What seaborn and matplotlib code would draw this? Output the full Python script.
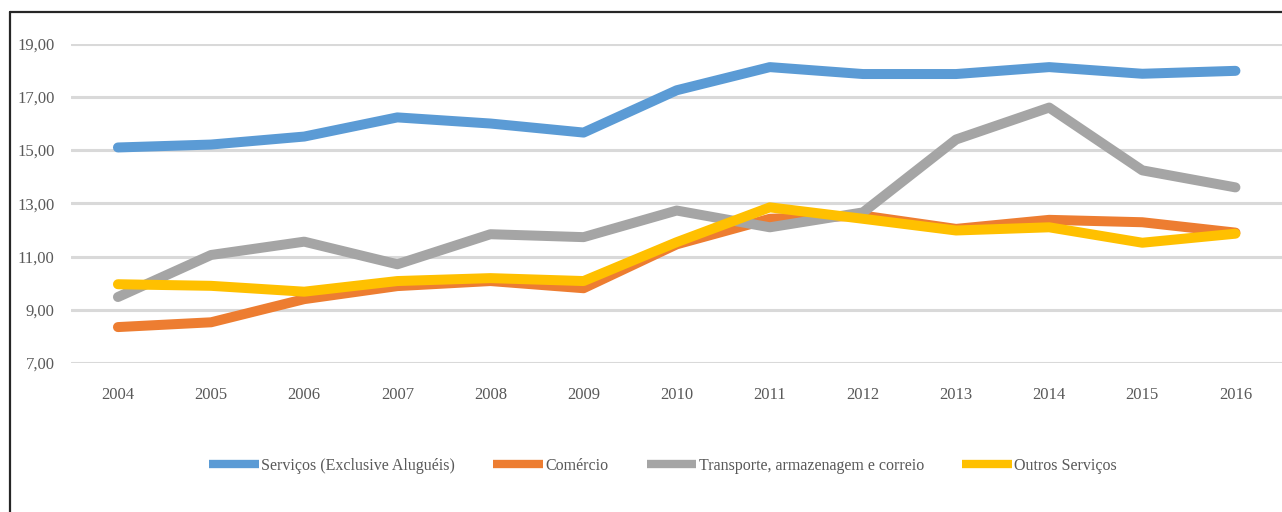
import numpy as np
import pandas as pd
import matplotlib
matplotlib.use("Agg")
import matplotlib.pyplot as plt
import seaborn as sns
from matplotlib.lines import Line2D

# dados
anos = list(range(2004, 2017))
servicos = [15.10, 15.21, 15.51, 16.23, 16.00, 15.66, 17.25, 18.12, 17.86, 17.86, 18.12, 17.87, 17.98]
comercio = [8.35, 8.53, 9.40, 9.89, 10.08, 9.81, 11.46, 12.42, 12.54, 12.04, 12.38, 12.29, 11.90]
transporte = [9.48, 11.06, 11.56, 10.71, 11.84, 11.73, 12.73, 12.10, 12.66, 15.40, 16.60, 14.24, 13.60]
outros = [9.96, 9.90, 9.68, 10.08, 10.19, 10.08, 11.54, 12.85, 12.42, 11.98, 12.10, 11.52, 11.86]

series = ["Serviços (Exclusive Aluguéis)", "Comércio",
          "Transporte, armazenagem e correio", "Outros Serviços"]
cores = ["#5B9BD5", "#ED7D31", "#A5A5A5", "#FFC000"]
yticks = [7, 9, 11, 13, 15, 17, 19]

df = pd.DataFrame({
    "ano": anos * 4,
    "valor": servicos + comercio + transporte + outros,
    "serie": [s for s in series for _ in anos],
})

sns.set_style("white")
plt.rcParams["font.family"] = ["Liberation Serif", "DejaVu Serif"]

fig = plt.figure(figsize=(12.82, 5.12), dpi=100)
ax = fig.add_axes([71.4 / 1282, 1 - 363 / 512, 1 - 71.4 / 1282, (363 - 43.7) / 512])

sns.lineplot(data=df, x="ano", y="valor", hue="serie", hue_order=series,
             palette=cores, linewidth=7.2, solid_capstyle="round",
             legend=False, ax=ax)

ax.set_xlim(2003.5, 2016.5)
ax.set_ylim(7, 19)
ax.set_xticks(anos)
ax.set_xticklabels([str(a) for a in anos])
ax.set_yticks(yticks)
ax.set_yticklabels([f"{v},00" for v in yticks])
ax.set_xlabel("")
ax.set_ylabel("")
ax.grid(axis="y", color="#D9D9D9", linewidth=2.2)
ax.set_axisbelow(True)
for s in ax.spines.values():
    s.set_visible(False)
ax.tick_params(axis="x", length=0, pad=17, labelsize=12, labelcolor="#595959")
ax.tick_params(axis="y", length=0, pad=12, labelsize=12, labelcolor="#595959")

handles = [Line2D([], [], color=c, linewidth=6, solid_capstyle="butt") for c in cores]
fig.legend(handles, series, loc="center", bbox_to_anchor=(663 / 1282, 1 - 466 / 512),
           ncol=4, frameon=False, fontsize=11.5, labelcolor="#595959",
           handlelength=3.1, handletextpad=0.15, columnspacing=2.4)

# moldura escura (esquerda e topo)
fig.add_artist(Line2D([10 / 1282, 10 / 1282], [0, 1 - 12 / 512],
                      transform=fig.transFigure, color="#262626", linewidth=1.6))
fig.add_artist(Line2D([10 / 1282, 1], [1 - 12 / 512, 1 - 12 / 512],
                      transform=fig.transFigure, color="#262626", linewidth=1.6))

fig.savefig("out.png", dpi=100)
